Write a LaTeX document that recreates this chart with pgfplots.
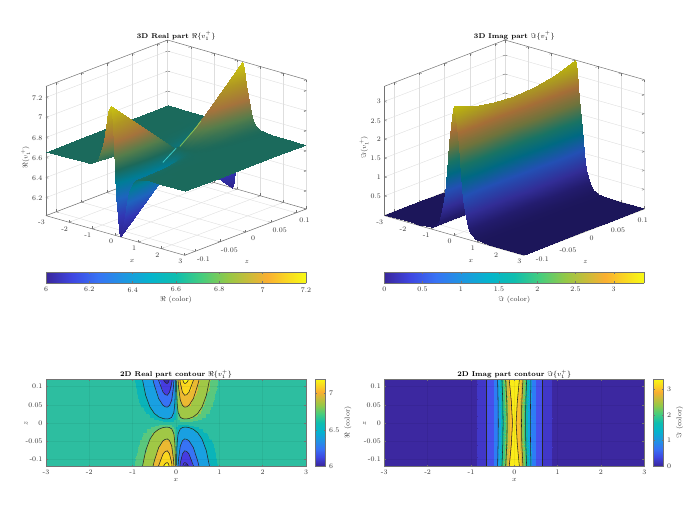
\documentclass[border=0pt]{standalone}
\usepackage{pgfplots}
\usepackage{pgfplotstable}
\pgfplotsset{compat=1.18}
\definecolor{ax}{gray}{0.45}
\definecolor{tx}{gray}{0.2}
\definecolor{glowA}{RGB}{70,225,225}
\definecolor{glowB}{RGB}{160,225,90}
\pgfplotsset{
 colormap={cbar}{rgb255(0pt)=(58,38,155) rgb255(10pt)=(62,70,225) rgb255(20pt)=(55,115,245) rgb255(30pt)=(30,150,225) rgb255(40pt)=(5,180,205) rgb255(50pt)=(15,190,175) rgb255(60pt)=(70,205,125) rgb255(70pt)=(150,200,70) rgb255(80pt)=(215,185,55) rgb255(85pt)=(250,175,50) rgb255(92pt)=(250,212,35) rgb255(100pt)=(248,250,20)},
 colormap={surfR}{rgb255(0pt)=(45,35,140) rgb255(15pt)=(50,55,180) rgb255(28pt)=(30,100,190) rgb255(40pt)=(0,125,150) rgb255(50pt)=(28,105,90) rgb255(60pt)=(85,125,75) rgb255(72pt)=(165,115,60) rgb255(85pt)=(175,150,35) rgb255(100pt)=(205,200,15)},
 colormap={surfI}{rgb255(0pt)=(28,22,90) rgb255(8pt)=(35,28,110) rgb255(18pt)=(50,45,150) rgb255(32pt)=(35,80,180) rgb255(45pt)=(0,105,130) rgb255(55pt)=(25,115,100) rgb255(68pt)=(110,115,60) rgb255(80pt)=(165,110,55) rgb255(90pt)=(170,150,35) rgb255(100pt)=(190,185,10)},
 colormap={bandR}{rgb255(0pt)=(53,42,160) rgb255(5.5pt)=(53,42,160) rgb255(5.55pt)=(70,60,225) rgb255(23pt)=(70,60,225) rgb255(23.05pt)=(55,115,245) rgb255(40.5pt)=(55,115,245) rgb255(40.55pt)=(25,160,225) rgb255(58pt)=(25,160,225) rgb255(58.05pt)=(10,180,185) rgb255(62pt)=(10,180,185) rgb255(62.05pt)=(45,190,160) rgb255(66pt)=(45,190,160) rgb255(66.05pt)=(90,200,125) rgb255(70pt)=(90,200,125) rgb255(70.05pt)=(160,200,70) rgb255(87.5pt)=(160,200,70) rgb255(87.55pt)=(235,185,50) rgb255(105pt)=(235,185,50) rgb255(105.05pt)=(250,215,30) rgb255(122.5pt)=(250,215,30) rgb255(122.55pt)=(250,250,20) rgb255(129pt)=(250,250,20)},
 colormap={bandI}{rgb255(0pt)=(60,40,160) rgb255(7pt)=(60,40,160) rgb255(7.05pt)=(65,55,200) rgb255(25pt)=(65,55,200) rgb255(25.05pt)=(70,80,235) rgb255(60pt)=(70,80,235) rgb255(60.05pt)=(45,125,245) rgb255(106pt)=(45,125,245) rgb255(106.05pt)=(20,165,225) rgb255(140pt)=(20,165,225) rgb255(140.05pt)=(10,185,180) rgb255(174pt)=(10,185,180) rgb255(174.05pt)=(60,200,130) rgb255(205pt)=(60,200,130) rgb255(205.05pt)=(130,200,80) rgb255(240pt)=(130,200,80) rgb255(240.05pt)=(215,185,55) rgb255(275pt)=(215,185,55) rgb255(275.05pt)=(250,190,45) rgb255(300pt)=(250,190,45) rgb255(300.05pt)=(250,235,25) rgb255(340pt)=(250,235,25)},
 common/.style={
  /pgf/number format/assume math mode=true,
  /pgf/number format/fixed,
  /pgf/number format/precision=2,
  scaled ticks=false,
  tick label style={font=\fontsize{7}{8}\selectfont,text=tx},
  label style={font=\fontsize{7}{8}\selectfont,text=tx},
  title style={font=\fontsize{7}{8}\selectfont,text=black},
  axis line style={ax,line width=0.5pt},
  tick style={ax,line width=0.4pt},
 },
 threeD/.style={common,grid=major,major grid style={black!13,line width=0.4pt},
  xmin=-3,xmax=3,ymin=-0.12,ymax=0.12,
  xtick={-3,-2,-1,0,1,2,3},ytick={-0.1,-0.05,0,0.05,0.1},
  xlabel={$x$},ylabel={$z$},
  major tick length=2.5pt,
  title style={yshift=-10pt},
  xlabel style={xshift=30pt,yshift=-6pt},
  ylabel style={xshift=-17pt,yshift=-5pt},
  yticklabel style={xshift=3pt}},
 flat/.style={common,view={0}{90},scale only axis,width=260pt,height=87.3pt,
  xmin=-3,xmax=3,ymin=-0.12,ymax=0.12,axis on top,grid=major,
  major grid style={black,opacity=0.05,line width=0.4pt},
  xtick={-3,-2,-1,0,1,2,3},ytick={-0.1,-0.05,0,0.05,0.1},
  xlabel={$x$},ylabel={$z$},major tick length=2pt,
  xlabel style={yshift=3pt},ylabel style={yshift=-9pt},title style={yshift=-9pt}},
 hbar/.style={common,view={0}{90},scale only axis,width=260pt,height=11pt,
  ymin=0,ymax=1,ytick=\empty,colormap name=cbar,axis on top,major tick length=2pt,
  xlabel style={yshift=2.5pt},xticklabel style={yshift=-0.5pt}},
 vbar/.style={common,view={0}{90},scale only axis,width=10.4pt,height=87pt,
  xmin=0,xmax=1,xtick=\empty,colormap name=cbar,axis on top,major tick length=2pt,
  yticklabel pos=right,ylabel near ticks,
  ylabel style={yshift=2pt,font=\fontsize{7}{8}\selectfont,text=tx}},
 contourline/.style={black!85,line width=0.55pt,no marks},
}
\pgfplotstableread[row sep=\\]{
x z v\\
-3 0.12 6.66\\-2 0.12 6.66\\-1.5 0.12 6.659\\-1.2 0.12 6.655\\-1 0.12 6.644\\-0.9 0.12 6.63\\-0.8 0.12 6.606\\-0.7 0.12 6.565\\-0.6 0.12 6.496\\-0.5 0.12 6.389\\-0.4 0.12 6.239\\-0.3 0.12 6.082\\-0.25 0.12 6.031\\-0.2 0.12 6.02\\-0.15 0.12 6.079\\-0.1 0.12 6.21\\-0.05 0.12 6.413\\0 0.12 6.66\\0.05 0.12 6.907\\0.1 0.12 7.11\\0.15 0.12 7.241\\0.2 0.12 7.3\\0.25 0.12 7.289\\0.3 0.12 7.238\\0.4 0.12 7.081\\0.5 0.12 6.931\\0.6 0.12 6.824\\0.7 0.12 6.755\\0.8 0.12 6.714\\0.9 0.12 6.69\\1 0.12 6.676\\1.2 0.12 6.665\\1.5 0.12 6.661\\2 0.12 6.66\\3 0.12 6.66\\
-3 0.06 6.66\\-2 0.06 6.66\\-1.5 0.06 6.66\\-1.2 0.06 6.658\\-1 0.06 6.652\\-0.9 0.06 6.645\\-0.8 0.06 6.633\\-0.7 0.06 6.613\\-0.6 0.06 6.578\\-0.5 0.06 6.525\\-0.4 0.06 6.449\\-0.3 0.06 6.371\\-0.25 0.06 6.346\\-0.2 0.06 6.34\\-0.15 0.06 6.369\\-0.1 0.06 6.435\\-0.05 0.06 6.536\\0 0.06 6.66\\0.05 0.06 6.784\\0.1 0.06 6.885\\0.15 0.06 6.951\\0.2 0.06 6.98\\0.25 0.06 6.974\\0.3 0.06 6.949\\0.4 0.06 6.871\\0.5 0.06 6.795\\0.6 0.06 6.742\\0.7 0.06 6.707\\0.8 0.06 6.687\\0.9 0.06 6.675\\1 0.06 6.668\\1.2 0.06 6.662\\1.5 0.06 6.66\\2 0.06 6.66\\3 0.06 6.66\\
-3 0 6.66\\-2 0 6.66\\-1.5 0 6.66\\-1.2 0 6.66\\-1 0 6.66\\-0.9 0 6.66\\-0.8 0 6.66\\-0.7 0 6.66\\-0.6 0 6.66\\-0.5 0 6.66\\-0.4 0 6.66\\-0.3 0 6.66\\-0.25 0 6.66\\-0.2 0 6.66\\-0.15 0 6.66\\-0.1 0 6.66\\-0.05 0 6.66\\0 0 6.66\\0.05 0 6.66\\0.1 0 6.66\\0.15 0 6.66\\0.2 0 6.66\\0.25 0 6.66\\0.3 0 6.66\\0.4 0 6.66\\0.5 0 6.66\\0.6 0 6.66\\0.7 0 6.66\\0.8 0 6.66\\0.9 0 6.66\\1 0 6.66\\1.2 0 6.66\\1.5 0 6.66\\2 0 6.66\\3 0 6.66\\
-3 -0.06 6.66\\-2 -0.06 6.66\\-1.5 -0.06 6.66\\-1.2 -0.06 6.662\\-1 -0.06 6.668\\-0.9 -0.06 6.675\\-0.8 -0.06 6.687\\-0.7 -0.06 6.707\\-0.6 -0.06 6.742\\-0.5 -0.06 6.795\\-0.4 -0.06 6.871\\-0.3 -0.06 6.949\\-0.25 -0.06 6.974\\-0.2 -0.06 6.98\\-0.15 -0.06 6.951\\-0.1 -0.06 6.885\\-0.05 -0.06 6.784\\0 -0.06 6.66\\0.05 -0.06 6.536\\0.1 -0.06 6.435\\0.15 -0.06 6.369\\0.2 -0.06 6.34\\0.25 -0.06 6.346\\0.3 -0.06 6.371\\0.4 -0.06 6.449\\0.5 -0.06 6.525\\0.6 -0.06 6.578\\0.7 -0.06 6.613\\0.8 -0.06 6.633\\0.9 -0.06 6.645\\1 -0.06 6.652\\1.2 -0.06 6.658\\1.5 -0.06 6.66\\2 -0.06 6.66\\3 -0.06 6.66\\
-3 -0.12 6.66\\-2 -0.12 6.66\\-1.5 -0.12 6.661\\-1.2 -0.12 6.665\\-1 -0.12 6.676\\-0.9 -0.12 6.69\\-0.8 -0.12 6.714\\-0.7 -0.12 6.755\\-0.6 -0.12 6.824\\-0.5 -0.12 6.931\\-0.4 -0.12 7.081\\-0.3 -0.12 7.238\\-0.25 -0.12 7.289\\-0.2 -0.12 7.3\\-0.15 -0.12 7.241\\-0.1 -0.12 7.11\\-0.05 -0.12 6.907\\0 -0.12 6.66\\0.05 -0.12 6.413\\0.1 -0.12 6.21\\0.15 -0.12 6.079\\0.2 -0.12 6.02\\0.25 -0.12 6.031\\0.3 -0.12 6.082\\0.4 -0.12 6.239\\0.5 -0.12 6.389\\0.6 -0.12 6.496\\0.7 -0.12 6.565\\0.8 -0.12 6.606\\0.9 -0.12 6.63\\1 -0.12 6.644\\1.2 -0.12 6.655\\1.5 -0.12 6.659\\2 -0.12 6.66\\3 -0.12 6.66\\
}\realtab
\pgfplotstableread[row sep=\\]{
x z v\\
-3 0.12 0\\-2 0.12 0\\-1.5 0.12 0.002\\-1.2 0.12 0.009\\-1 0.12 0.03\\-0.9 0.12 0.055\\-0.8 0.12 0.099\\-0.7 0.12 0.179\\-0.6 0.12 0.321\\-0.5 0.12 0.564\\-0.4 0.12 1.0\\-0.3 0.12 1.635\\-0.2 0.12 2.402\\-0.1 0.12 3.106\\-0.05 0.12 3.323\\0 0.12 3.4\\0.05 0.12 3.323\\0.1 0.12 3.106\\0.2 0.12 2.402\\0.3 0.12 1.635\\0.4 0.12 1.0\\0.5 0.12 0.564\\0.6 0.12 0.321\\0.7 0.12 0.179\\0.8 0.12 0.099\\0.9 0.12 0.055\\1 0.12 0.03\\1.2 0.12 0.009\\1.5 0.12 0.002\\2 0.12 0\\3 0.12 0\\
-3 0.08 0\\-2 0.08 0\\-1.5 0.08 0.002\\-1.2 0.08 0.009\\-1 0.08 0.03\\-0.9 0.08 0.055\\-0.8 0.08 0.099\\-0.7 0.08 0.179\\-0.6 0.08 0.321\\-0.5 0.08 0.564\\-0.4 0.08 0.958\\-0.3 0.08 1.541\\-0.2 0.08 2.265\\-0.1 0.08 2.929\\-0.05 0.08 3.134\\0 0.08 3.206\\0.05 0.08 3.134\\0.1 0.08 2.929\\0.2 0.08 2.265\\0.3 0.08 1.541\\0.4 0.08 0.958\\0.5 0.08 0.564\\0.6 0.08 0.321\\0.7 0.08 0.179\\0.8 0.08 0.099\\0.9 0.08 0.055\\1 0.08 0.03\\1.2 0.08 0.009\\1.5 0.08 0.002\\2 0.08 0\\3 0.08 0\\
-3 0.04 0\\-2 0.04 0\\-1.5 0.04 0.002\\-1.2 0.04 0.009\\-1 0.04 0.03\\-0.9 0.04 0.055\\-0.8 0.04 0.099\\-0.7 0.04 0.179\\-0.6 0.04 0.321\\-0.5 0.04 0.564\\-0.4 0.04 0.94\\-0.3 0.04 1.485\\-0.2 0.04 2.183\\-0.1 0.04 2.822\\-0.05 0.04 3.019\\0 0.04 3.089\\0.05 0.04 3.019\\0.1 0.04 2.822\\0.2 0.04 2.183\\0.3 0.04 1.485\\0.4 0.04 0.94\\0.5 0.04 0.564\\0.6 0.04 0.321\\0.7 0.04 0.179\\0.8 0.04 0.099\\0.9 0.04 0.055\\1 0.04 0.03\\1.2 0.04 0.009\\1.5 0.04 0.002\\2 0.04 0\\3 0.04 0\\
-3 0 0\\-2 0 0\\-1.5 0 0.002\\-1.2 0 0.009\\-1 0 0.03\\-0.9 0 0.055\\-0.8 0 0.099\\-0.7 0 0.179\\-0.6 0 0.321\\-0.5 0 0.564\\-0.4 0 0.93\\-0.3 0 1.466\\-0.2 0 2.155\\-0.1 0 2.786\\-0.05 0 2.981\\0 0 3.05\\0.05 0 2.981\\0.1 0 2.786\\0.2 0 2.155\\0.3 0 1.466\\0.4 0 0.93\\0.5 0 0.564\\0.6 0 0.321\\0.7 0 0.179\\0.8 0 0.099\\0.9 0 0.055\\1 0 0.03\\1.2 0 0.009\\1.5 0 0.002\\2 0 0\\3 0 0\\
-3 -0.04 0\\-2 -0.04 0\\-1.5 -0.04 0.002\\-1.2 -0.04 0.009\\-1 -0.04 0.03\\-0.9 -0.04 0.055\\-0.8 -0.04 0.099\\-0.7 -0.04 0.179\\-0.6 -0.04 0.321\\-0.5 -0.04 0.564\\-0.4 -0.04 0.94\\-0.3 -0.04 1.485\\-0.2 -0.04 2.183\\-0.1 -0.04 2.822\\-0.05 -0.04 3.019\\0 -0.04 3.089\\0.05 -0.04 3.019\\0.1 -0.04 2.822\\0.2 -0.04 2.183\\0.3 -0.04 1.485\\0.4 -0.04 0.94\\0.5 -0.04 0.564\\0.6 -0.04 0.321\\0.7 -0.04 0.179\\0.8 -0.04 0.099\\0.9 -0.04 0.055\\1 -0.04 0.03\\1.2 -0.04 0.009\\1.5 -0.04 0.002\\2 -0.04 0\\3 -0.04 0\\
-3 -0.08 0\\-2 -0.08 0\\-1.5 -0.08 0.002\\-1.2 -0.08 0.009\\-1 -0.08 0.03\\-0.9 -0.08 0.055\\-0.8 -0.08 0.099\\-0.7 -0.08 0.179\\-0.6 -0.08 0.321\\-0.5 -0.08 0.564\\-0.4 -0.08 0.958\\-0.3 -0.08 1.541\\-0.2 -0.08 2.265\\-0.1 -0.08 2.929\\-0.05 -0.08 3.134\\0 -0.08 3.206\\0.05 -0.08 3.134\\0.1 -0.08 2.929\\0.2 -0.08 2.265\\0.3 -0.08 1.541\\0.4 -0.08 0.958\\0.5 -0.08 0.564\\0.6 -0.08 0.321\\0.7 -0.08 0.179\\0.8 -0.08 0.099\\0.9 -0.08 0.055\\1 -0.08 0.03\\1.2 -0.08 0.009\\1.5 -0.08 0.002\\2 -0.08 0\\3 -0.08 0\\
-3 -0.12 0\\-2 -0.12 0\\-1.5 -0.12 0.002\\-1.2 -0.12 0.009\\-1 -0.12 0.03\\-0.9 -0.12 0.055\\-0.8 -0.12 0.099\\-0.7 -0.12 0.179\\-0.6 -0.12 0.321\\-0.5 -0.12 0.564\\-0.4 -0.12 1.0\\-0.3 -0.12 1.635\\-0.2 -0.12 2.402\\-0.1 -0.12 3.106\\-0.05 -0.12 3.323\\0 -0.12 3.4\\0.05 -0.12 3.323\\0.1 -0.12 3.106\\0.2 -0.12 2.402\\0.3 -0.12 1.635\\0.4 -0.12 1.0\\0.5 -0.12 0.564\\0.6 -0.12 0.321\\0.7 -0.12 0.179\\0.8 -0.12 0.099\\0.9 -0.12 0.055\\1 -0.12 0.03\\1.2 -0.12 0.009\\1.5 -0.12 0.002\\2 -0.12 0\\3 -0.12 0\\
}\imagtab
\begin{document}
\begin{tikzpicture}
\path[use as bounding box] (0,0) rectangle (693pt,514pt);
% --- 3D real
\begin{axis}[threeD,at={(46pt,258.7pt)},anchor=south west,
 x={(23.11pt,-6.61pt)},y={(506.9pt,193.1pt)},z={(0pt,100.2pt)},
 zmin=6.02,zmax=7.31,ztick={6.2,6.4,6.6,6.8,7,7.2},
 zlabel style={xshift=-5pt,yshift=-5pt},
 zlabel={$\Re(v_1^+)$},title={\textbf{3D Real part} $\Re\{v_1^+\}$},colormap name=surfR]
\addplot3[surf,shader=interp,mesh/ordering=x varies,mesh/cols=35,mesh/rows=5,point meta=\thisrow{v},point meta min=6.02,point meta max=7.31] table[x=x,y=z,z=v] {\realtab};
\addplot3[glowA,line width=0.8pt,opacity=0.8,no marks] coordinates {(0.08,-0.03,6.58)(0.04,-0.015,6.62)(0,0,6.66)};
\addplot3[glowB,line width=0.8pt,opacity=0.7,no marks] coordinates {(0.05,0.005,6.67)(0.2,0.03,6.82)(0.2,0.04,6.87)};
\end{axis}
% --- 3D imag
\begin{axis}[threeD,at={(384.3pt,258.7pt)},anchor=south west,
 x={(23.22pt,-6.61pt)},y={(502.8pt,193.1pt)},z={(0pt,37.8pt)},
 zmin=-0.02,zmax=3.4,ztick={0.5,1,1.5,2,2.5,3},
 zlabel style={xshift=5pt,yshift=-5pt},
 zlabel={$\Im(v_1^+)$},title={\textbf{3D Imag part} $\Im\{v_1^+\}$},colormap name=surfI]
\addplot3[surf,shader=interp,mesh/ordering=x varies,mesh/cols=31,mesh/rows=7,point meta=\thisrow{v},point meta min=0,point meta max=3.4] table[x=x,y=z,z=v] {\imagtab};
\end{axis}
% --- horizontal colour bars
\begin{axis}[hbar,at={(46pt,230.7pt)},anchor=south west,xmin=6,xmax=7.2,xtick={6,6.2,6.4,6.6,6.8,7,7.2},xlabel={$\Re$ (color)}]
\addplot3[surf,shader=interp,mesh/rows=2,mesh/cols=2,point meta=x] coordinates {(6,0,0)(7.2,0,0)(6,1,0)(7.2,1,0)};
\end{axis}
\begin{axis}[hbar,at={(384.3pt,230.7pt)},anchor=south west,xmin=0,xmax=3.4,xtick={0,0.5,1,1.5,2,2.5,3},xlabel={$\Im$ (color)}]
\addplot3[surf,shader=interp,mesh/rows=2,mesh/cols=2,point meta=x] coordinates {(0,0,0)(3.4,0,0)(0,1,0)(3.4,1,0)};
\end{axis}
% --- 2D real
\begin{axis}[flat,at={(46pt,47.3pt)},anchor=south west,title={\textbf{2D Real part contour} $\Re\{v_1^+\}$},colormap name=bandR]
\addplot3[surf,shader=interp,mesh/ordering=x varies,mesh/cols=35,mesh/rows=5,point meta=\thisrow{v},point meta min=6.02,point meta max=7.31] table[x=x,y=z,z=v] {\realtab};
% level 6.72 / 6.6
\addplot3[contourline] coordinates {(0.012,0.12,6.72)(0.02,0.0725,6.72)(0.03,0.0486,6.72)(0.05,0.0291,6.72)(0.1,0.016,6.72)(0.15,0.0124,6.72)(0.2,0.0112,6.72)(0.25,0.0115,6.72)(0.3,0.01245,6.72)(0.4,0.0171,6.72)(0.5,0.0266,6.72)(0.6,0.0438,6.72)(0.7,0.0759,6.72)(0.775,0.12,6.72)};
\addplot3[contourline] coordinates {(-0.012,-0.12,6.72)(-0.02,-0.0725,6.72)(-0.03,-0.0486,6.72)(-0.05,-0.0291,6.72)(-0.1,-0.016,6.72)(-0.15,-0.0124,6.72)(-0.2,-0.0112,6.72)(-0.25,-0.0115,6.72)(-0.3,-0.01245,6.72)(-0.4,-0.0171,6.72)(-0.5,-0.0266,6.72)(-0.6,-0.0438,6.72)(-0.7,-0.0759,6.72)(-0.775,-0.12,6.72)};
\addplot3[contourline] coordinates {(-0.012,0.12,6.6)(-0.02,0.0725,6.6)(-0.03,0.0486,6.6)(-0.05,0.0291,6.6)(-0.1,0.016,6.6)(-0.15,0.0124,6.6)(-0.2,0.0112,6.6)(-0.25,0.0115,6.6)(-0.3,0.01245,6.6)(-0.4,0.0171,6.6)(-0.5,0.0266,6.6)(-0.6,0.0438,6.6)(-0.7,0.0759,6.6)(-0.775,0.12,6.6)};
\addplot3[contourline] coordinates {(0.012,-0.12,6.6)(0.02,-0.0725,6.6)(0.03,-0.0486,6.6)(0.05,-0.0291,6.6)(0.1,-0.016,6.6)(0.15,-0.0124,6.6)(0.2,-0.0112,6.6)(0.25,-0.0115,6.6)(0.3,-0.01245,6.6)(0.4,-0.0171,6.6)(0.5,-0.0266,6.6)(0.6,-0.0438,6.6)(0.7,-0.0759,6.6)(0.775,-0.12,6.6)};
% level 6.895 / 6.425
\addplot3[contourline] coordinates {(0.0475,0.12,6.895)(0.06,0.098,6.895)(0.1,0.0626,6.895)(0.15,0.0485,6.895)(0.2,0.0437,6.895)(0.25,0.0449,6.895)(0.3,0.0488,6.895)(0.4,0.067,6.895)(0.5,0.1041,6.895)(0.534,0.12,6.895)};
\addplot3[contourline] coordinates {(-0.0475,-0.12,6.895)(-0.06,-0.098,6.895)(-0.1,-0.0626,6.895)(-0.15,-0.0485,6.895)(-0.2,-0.0437,6.895)(-0.25,-0.0449,6.895)(-0.3,-0.0488,6.895)(-0.4,-0.067,6.895)(-0.5,-0.1041,6.895)(-0.534,-0.12,6.895)};
\addplot3[contourline] coordinates {(-0.0475,0.12,6.425)(-0.06,0.098,6.425)(-0.1,0.0626,6.425)(-0.15,0.0485,6.425)(-0.2,0.0437,6.425)(-0.25,0.0449,6.425)(-0.3,0.0488,6.425)(-0.4,0.067,6.425)(-0.5,0.1041,6.425)(-0.534,0.12,6.425)};
\addplot3[contourline] coordinates {(0.0475,-0.12,6.425)(0.06,-0.098,6.425)(0.1,-0.0626,6.425)(0.15,-0.0485,6.425)(0.2,-0.0437,6.425)(0.25,-0.0449,6.425)(0.3,-0.0488,6.425)(0.4,-0.067,6.425)(0.5,-0.1041,6.425)(0.534,-0.12,6.425)};
% level 7.07 / 6.25
\addplot3[contourline] coordinates {(0.09,0.12,7.07)(0.1,0.1093,7.07)(0.15,0.0847,7.07)(0.2,0.0763,7.07)(0.25,0.0782,7.07)(0.3,0.0851,7.07)(0.4,0.1168,7.07)(0.41,0.12,7.07)};
\addplot3[contourline] coordinates {(-0.09,-0.12,7.07)(-0.1,-0.1093,7.07)(-0.15,-0.0847,7.07)(-0.2,-0.0763,7.07)(-0.25,-0.0782,7.07)(-0.3,-0.0851,7.07)(-0.4,-0.1168,7.07)(-0.41,-0.12,7.07)};
\addplot3[contourline] coordinates {(-0.09,0.12,6.25)(-0.1,0.1093,6.25)(-0.15,0.0847,6.25)(-0.2,0.0763,6.25)(-0.25,0.0782,6.25)(-0.3,0.0851,6.25)(-0.4,0.1168,6.25)(-0.41,0.12,6.25)};
\addplot3[contourline] coordinates {(0.09,-0.12,6.25)(0.1,-0.1093,6.25)(0.15,-0.0847,6.25)(0.2,-0.0763,6.25)(0.25,-0.0782,6.25)(0.3,-0.0851,6.25)(0.4,-0.1168,6.25)(0.41,-0.12,6.25)};
% level 7.245 / 6.075
\addplot3[contourline] coordinates {(0.153,0.12,7.245)(0.175,0.112,7.245)(0.2,0.1088,7.245)(0.225,0.1095,7.245)(0.25,0.1116,7.245)(0.295,0.12,7.245)};
\addplot3[contourline] coordinates {(-0.153,-0.12,7.245)(-0.175,-0.112,7.245)(-0.2,-0.1088,7.245)(-0.225,-0.1095,7.245)(-0.25,-0.1116,7.245)(-0.295,-0.12,7.245)};
\addplot3[contourline] coordinates {(-0.153,0.12,6.075)(-0.175,0.112,6.075)(-0.2,0.1088,6.075)(-0.225,0.1095,6.075)(-0.25,0.1116,6.075)(-0.295,0.12,6.075)};
\addplot3[contourline] coordinates {(0.153,-0.12,6.075)(0.175,-0.112,6.075)(0.2,-0.1088,6.075)(0.225,-0.1095,6.075)(0.25,-0.1116,6.075)(0.295,-0.12,6.075)};
\end{axis}
% --- 2D imag
\begin{axis}[flat,at={(384.3pt,47.3pt)},anchor=south west,title={\textbf{2D Imag part contour} $\Im\{v_1^+\}$},colormap name=bandI]
\addplot3[surf,shader=interp,mesh/ordering=x varies,mesh/cols=31,mesh/rows=7,point meta=\thisrow{v},point meta min=0,point meta max=3.4] table[x=x,y=z,z=v] {\imagtab};
\addplot3[contourline] coordinates {(-0.64,0.12,0.25)(-0.64,0,0.25)(-0.64,-0.12,0.25)};
\addplot3[contourline] coordinates {(0.64,0.12,0.25)(0.64,0,0.25)(0.64,-0.12,0.25)};
\addplot3[contourline] coordinates {(-0.385,0.12,1.06)(-0.375,0.06,1.06)(-0.37,0,1.06)(-0.375,-0.06,1.06)(-0.385,-0.12,1.06)};
\addplot3[contourline] coordinates {(0.385,0.12,1.06)(0.375,0.06,1.06)(0.37,0,1.06)(0.375,-0.06,1.06)(0.385,-0.12,1.06)};
\addplot3[contourline] coordinates {(-0.285,0.12,1.74)(-0.266,0.06,1.74)(-0.259,0,1.74)(-0.266,-0.06,1.74)(-0.285,-0.12,1.74)};
\addplot3[contourline] coordinates {(0.285,0.12,1.74)(0.266,0.06,1.74)(0.259,0,1.74)(0.266,-0.06,1.74)(0.285,-0.12,1.74)};
\addplot3[contourline] coordinates {(-0.2,0.12,2.4)(-0.174,0.06,2.4)(-0.165,0,2.4)(-0.174,-0.06,2.4)(-0.2,-0.12,2.4)};
\addplot3[contourline] coordinates {(0.2,0.12,2.4)(0.174,0.06,2.4)(0.165,0,2.4)(0.174,-0.06,2.4)(0.2,-0.12,2.4)};
\addplot3[contourline] coordinates {(-0.118,0.12,3)(-0.07,0.06,3)(-0.042,0,3)(-0.07,-0.06,3)(-0.118,-0.12,3)};
\addplot3[contourline] coordinates {(0.118,0.12,3)(0.07,0.06,3)(0.042,0,3)(0.07,-0.06,3)(0.118,-0.12,3)};
\end{axis}
% --- vertical colour bars
\begin{axis}[vbar,at={(315.3pt,48pt)},anchor=south west,ymin=6,ymax=7.2,ytick={6,6.5,7},ylabel={$\Re$ (color)}]
\addplot3[surf,shader=interp,mesh/rows=2,mesh/cols=2,point meta=y] coordinates {(0,6,0)(1,6,0)(0,7.2,0)(1,7.2,0)};
\end{axis}
\begin{axis}[vbar,at={(653.3pt,48pt)},anchor=south west,ymin=0,ymax=3.4,ytick={0,1,2,3},ylabel={$\Im$ (color)}]
\addplot3[surf,shader=interp,mesh/rows=2,mesh/cols=2,point meta=y] coordinates {(0,0,0)(1,0,0)(0,3.4,0)(1,3.4,0)};
\end{axis}
\end{tikzpicture}
\end{document}
